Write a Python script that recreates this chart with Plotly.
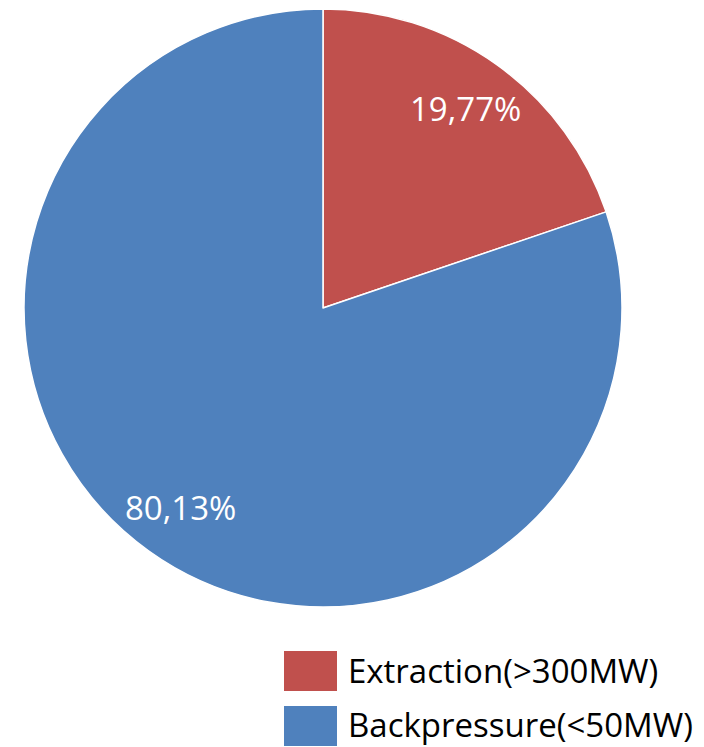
import math
import plotly.graph_objects as go

# Share of installed capacity by turbine type
labels = ["Extraction(>300MW)", "Backpressure(<50MW)"]
values = [19.77, 80.13]
colors = ["#C0504D", "#4F81BD"]
value_text = ["19,77%", "80,13%"]

W, H = 704, 747
cx, cy, R = 323, 308, 299  # pie centre and radius in pixels

fig = go.Figure()
fig.add_trace(go.Pie(
    labels=labels,
    values=values,
    sort=False,
    direction="clockwise",
    rotation=0,
    marker=dict(colors=colors, line=dict(color="white", width=1.5)),
    textinfo="none",
    hoverinfo="label+percent",
    showlegend=False,
    domain=dict(x=[(cx - R) / W, (cx + R) / W], y=[1 - (cy + R) / H, 1 - (cy - R) / H]),
))

# Value labels at the middle angle of each slice
total = sum(values)
start = 0.0
for v, t in zip(values, value_text):
    mid = start + v / total * 360 / 2
    start += v / total * 360
    a = math.radians(mid)
    px = cx + 0.82 * R * math.sin(a)
    py = cy - 0.82 * R * math.cos(a)
    fig.add_annotation(x=px / W, y=1 - py / H, xref="paper", yref="paper",
                       text=t, showarrow=False, xanchor="center", yanchor="middle",
                       font=dict(family="Open Sans", size=33, color="white"))

# Legend: coloured boxes with labels
box_x0, box_x1 = 284, 337
rows_y = [651, 706]
text_cy = [670, 724]
for lab, col, y0, ty in zip(labels, colors, rows_y, text_cy):
    fig.add_shape(type="rect", xref="paper", yref="paper",
                  x0=box_x0 / W, x1=box_x1 / W,
                  y0=1 - (y0 + 40) / H, y1=1 - y0 / H,
                  fillcolor=col, line=dict(width=0))
    fig.add_annotation(x=347 / W, y=1 - ty / H, xref="paper", yref="paper",
                       text=lab, showarrow=False, xanchor="left", yanchor="middle",
                       borderpad=0,
                       font=dict(family="Open Sans", size=33, color="black"))

fig.update_layout(
    width=W, height=H,
    margin=dict(l=0, r=0, t=0, b=0),
    paper_bgcolor="white",
    plot_bgcolor="white",
)

fig.write_html("out.html")
